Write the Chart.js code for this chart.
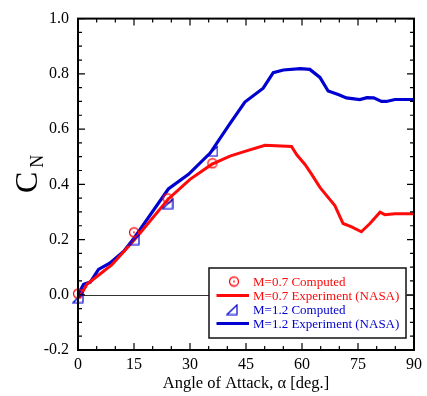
<!DOCTYPE html>
<html>
<head>
<meta charset="utf-8">
<script src="https://cdn.jsdelivr.net/npm/chart.js@4"></script>
<style>
  html, body { margin: 0; padding: 0; background: #fff; }
  canvas { display: block; }
</style>
</head>
<body>
<canvas id="cnChart" width="427" height="396"></canvas>
<script>
// Normal force coefficient vs angle of attack

// M=0.7 experiment (NASA)
const alphaExp07 = [0.3, 2.4, 6, 9.1, 13.5, 15.8, 24.2, 30, 35.8, 40.7, 44.7, 50.1, 57.2, 58.6, 60.8, 62.6, 64.8, 68.8, 71, 73.3, 75.9, 78.2, 80.9, 82.2, 84.9, 90];
const cnExp07    = [-0.012, 0.038, 0.076, 0.109, 0.175, 0.21, 0.347, 0.418, 0.472, 0.502, 0.519, 0.541, 0.537, 0.507, 0.472, 0.436, 0.389, 0.323, 0.258, 0.246, 0.228, 0.258, 0.299, 0.29, 0.293, 0.293];

// M=1.2 experiment (NASA)
const alphaExp12 = [0, 1.5, 3.3, 5.5, 8.6, 12.2, 15, 24.2, 29.6, 35.4, 40.7, 44.7, 49.6, 52.3, 55, 59.5, 62.1, 64.8, 67, 69.7, 71.9, 75.5, 77.4, 79.2, 81.3, 82.6, 84.9, 90];
const cnExp12    = [0, 0.038, 0.046, 0.092, 0.115, 0.157, 0.205, 0.383, 0.436, 0.513, 0.62, 0.698, 0.748, 0.804, 0.814, 0.819, 0.816, 0.787, 0.738, 0.725, 0.713, 0.707, 0.714, 0.713, 0.70, 0.70, 0.707, 0.707];

// computed points
const alphaComp  = [0, 15, 24, 36];
const cnComp07   = [0.004, 0.226, 0.349, 0.476];
const cnComp12   = [-0.01, 0.2, 0.33, 0.521];

const xTicks = [0, 15, 30, 45, 60, 75, 90];
const yTicks = [-0.2, 0, 0.2, 0.4, 0.6, 0.8, 1.0];

const legendLabels = ['M=0.7 Computed', 'M=0.7 Experiment (NASA)', 'M=1.2 Computed', 'M=1.2 Experiment (NASA)'];

const RED  = '#ff0a0a';
const BLUE = '#0000d0';
const SERIF = '"Liberation Serif", "Times New Roman", serif';

const toXY = (xs, ys) => xs.map((x, i) => ({ x: x, y: ys[i] }));

// marker images
function makeCircleMarker() {
  const c = document.createElement('canvas');
  c.width = 12; c.height = 12;
  const g = c.getContext('2d');
  g.strokeStyle = RED;
  g.lineWidth = 1.3;
  g.beginPath();
  g.arc(6, 6, 4.5, 0, Math.PI * 2);
  g.stroke();
  g.fillStyle = RED;
  g.fillRect(5.2, 5.2, 1.6, 1.6);
  return c;
}
function makeTriMarker() {
  const c = document.createElement('canvas');
  c.width = 12; c.height = 12;
  const g = c.getContext('2d');
  g.strokeStyle = BLUE;
  g.lineWidth = 1.2;
  g.beginPath();
  g.moveTo(1, 11);
  g.lineTo(11, 11);
  g.lineTo(11, 1.5);
  g.closePath();
  g.stroke();
  return c;
}
const circleImg = makeCircleMarker();
const triImg = makeTriMarker();

// zero line under the data
const zeroLine = {
  id: 'zeroLine',
  beforeDatasetsDraw(chart) {
    const { ctx, chartArea, scales } = chart;
    const y = Math.round(scales.y.getPixelForValue(0)) + 0.5;
    ctx.save();
    ctx.strokeStyle = '#333';
    ctx.lineWidth = 1;
    ctx.beginPath();
    ctx.moveTo(chartArea.left, y);
    ctx.lineTo(chartArea.right, y);
    ctx.stroke();
    ctx.restore();
  }
};

// frame with inward ticks, titles, legend box
const decorations = {
  id: 'decorations',
  afterDraw(chart) {
    const { ctx, chartArea: a, scales } = chart;
    ctx.save();
    ctx.strokeStyle = '#000';

    // ticks
    ctx.lineWidth = 1.2;
    ctx.beginPath();
    for (let v = 0; v <= 90; v += 5) {
      const x = scales.x.getPixelForValue(v);
      const len = v % 15 === 0 ? 7 : 4;
      ctx.moveTo(x, a.bottom); ctx.lineTo(x, a.bottom - len);
      ctx.moveTo(x, a.top);    ctx.lineTo(x, a.top + len);
    }
    for (let i = 0; i <= 24; i++) {
      const v = -0.2 + i * 0.05;
      const y = scales.y.getPixelForValue(v);
      const len = i % 4 === 0 ? 7 : 4;
      ctx.moveTo(a.left, y);  ctx.lineTo(a.left + len, y);
      ctx.moveTo(a.right, y); ctx.lineTo(a.right - len, y);
    }
    ctx.stroke();

    // frame
    ctx.lineWidth = 2;
    ctx.strokeRect(a.left, a.top, a.right - a.left, a.bottom - a.top);

    // x title
    ctx.fillStyle = '#000';
    ctx.font = '16.5px ' + SERIF;
    ctx.textAlign = 'center';
    ctx.textBaseline = 'alphabetic';
    ctx.fillText('Angle of Attack, \u03b1 [deg.]', 246, 388);

    // y title C_N
    ctx.save();
    ctx.translate(37, 193);
    ctx.rotate(-Math.PI / 2);
    ctx.textAlign = 'left';
    ctx.font = '32px ' + SERIF;
    ctx.fillText('C', 0, 0);
    const cw = ctx.measureText('C').width;
    ctx.font = '18px ' + SERIF;
    ctx.fillText('N', cw + 4, 6);
    ctx.restore();

    // legend box
    const bx = 209, by = 268, bw = 197, bh = 70;
    ctx.fillStyle = '#fff';
    ctx.fillRect(bx, by, bw, bh);
    ctx.lineWidth = 1.5;
    ctx.strokeStyle = '#111';
    ctx.strokeRect(bx, by, bw, bh);

    const rows = [281.5, 295.5, 309.5, 323.5];
    const colors = [RED, RED, BLUE, BLUE];
    ctx.font = '13px ' + SERIF;
    ctx.textAlign = 'left';
    ctx.textBaseline = 'middle';
    rows.forEach((ry, i) => {
      if (i === 0) ctx.drawImage(circleImg, 234 - 6, ry - 6);
      else if (i === 2) ctx.drawImage(triImg, 232 - 6, ry - 6);
      else {
        ctx.strokeStyle = colors[i];
        ctx.lineWidth = 3;
        ctx.beginPath();
        ctx.moveTo(216.5, ry);
        ctx.lineTo(249, ry);
        ctx.stroke();
      }
      ctx.fillStyle = colors[i];
      ctx.fillText(legendLabels[i], 253, ry + 1);
    });
    ctx.restore();
  }
};

new Chart(document.getElementById('cnChart').getContext('2d'), {
  type: 'line',
  data: {
    datasets: [
      {
        label: legendLabels[2],
        data: toXY(alphaComp, cnComp12),
        showLine: false,
        pointStyle: triImg,
        pointRadius: 5,
        clip: false
      },
      {
        label: legendLabels[0],
        data: toXY(alphaComp, cnComp07),
        showLine: false,
        pointStyle: circleImg,
        pointRadius: 5,
        clip: false
      },
      {
        label: legendLabels[1],
        data: toXY(alphaExp07, cnExp07),
        borderColor: RED,
        borderWidth: 3,
        pointRadius: 0,
        tension: 0,
        fill: false,
        clip: false
      },
      {
        label: legendLabels[3],
        data: toXY(alphaExp12, cnExp12),
        borderColor: BLUE,
        borderWidth: 3.2,
        pointRadius: 0,
        tension: 0,
        fill: false,
        clip: false
      }
    ]
  },
  options: {
    responsive: false,
    animation: false,
    devicePixelRatio: 1,
    layout: { padding: { left: 0, right: 13, top: 13, bottom: 0 } },
    plugins: {
      legend: { display: false },
      tooltip: { enabled: false }
    },
    scales: {
      x: {
        type: 'linear',
        min: 0,
        max: 90,
        afterFit: s => { s.height = 46; },
        afterBuildTicks: s => { s.ticks = xTicks.map(v => ({ value: v })); },
        grid: { display: false, drawTicks: false },
        border: { display: false },
        ticks: {
          color: '#000',
          padding: 5,
          maxRotation: 0,
          font: { family: SERIF, size: 16 }
        }
      },
      y: {
        type: 'linear',
        min: -0.2,
        max: 1.0,
        afterFit: s => { s.width = 78; },
        afterBuildTicks: s => { s.ticks = yTicks.map(v => ({ value: v })); },
        grid: { display: false, drawTicks: false },
        border: { display: false },
        ticks: {
          color: '#000',
          padding: 9,
          font: { family: SERIF, size: 16 },
          callback: v => v.toFixed(1)
        }
      }
    }
  },
  plugins: [zeroLine, decorations]
});
</script>
</body>
</html>
